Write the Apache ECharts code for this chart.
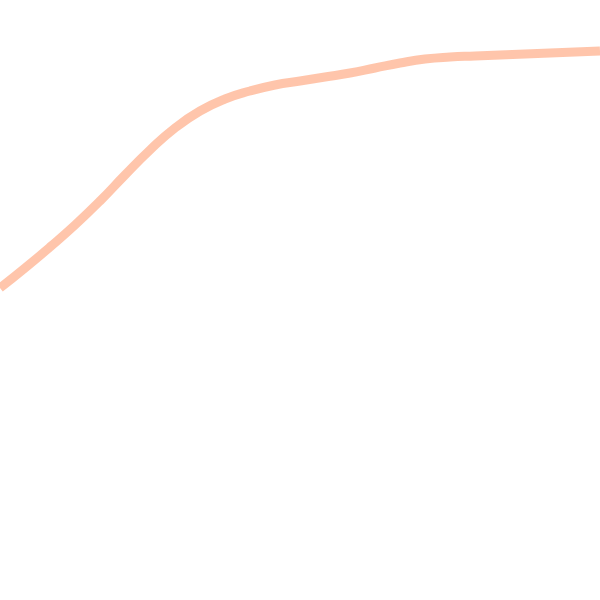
<!DOCTYPE html>
<html>
<head>
<meta charset="utf-8">
<script src="https://cdn.jsdelivr.net/npm/echarts@6/dist/echarts.min.js"></script>
<style>
  html, body { margin: 0; padding: 0; background: #fff; }
  #main { width: 600px; height: 600px; }
</style>
</head>
<body>
<div id="main"></div>
<script>
var categories = ['0', '1', '2', '3', '4', '5', '6', '7', '8', '9', '10', '11', '12',
                  '13', '14', '15', '16', '17', '18', '19', '20', '21', '22', '23', '24'];
var values = [312, 332, 353, 375, 399, 425, 450, 472, 489, 501, 509, 515, 519,
              523, 527, 532, 537, 541, 543, 544, 545, 546, 547, 548, 549];

var myChart = echarts.init(document.getElementById('main'));
var option = {
  backgroundColor: '#fff',
  animation: false,
  grid: { left: 0, right: 0, top: 0, bottom: 0 },
  xAxis: {
    type: 'category',
    data: categories,
    boundaryGap: false,
    show: false
  },
  yAxis: {
    type: 'value',
    min: 0,
    max: 600,
    show: false
  },
  series: [{
    type: 'line',
    data: values,
    smooth: true,
    showSymbol: false,
    lineStyle: { color: '#ffbfa2', width: 9, opacity: 0.9 }
  }]
};
myChart.setOption(option);
</script>
</body>
</html>
